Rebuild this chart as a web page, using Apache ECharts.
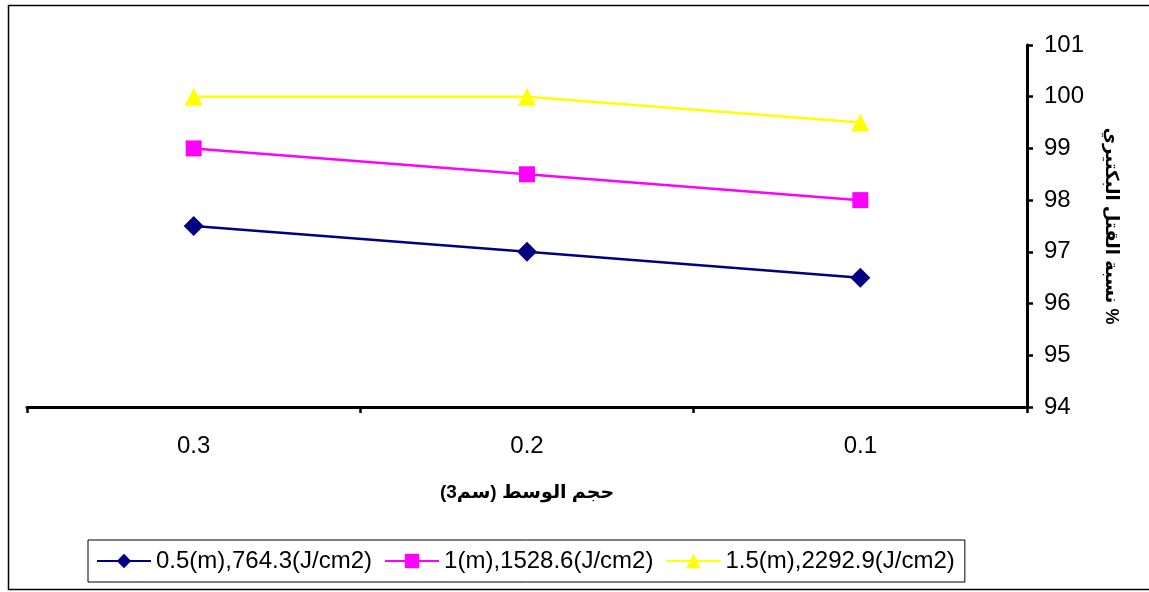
<!DOCTYPE html>
<html>
<head>
<meta charset="utf-8">
<script src="https://cdn.jsdelivr.net/npm/echarts@6/dist/echarts.min.js"></script>
<style>
  html, body { margin: 0; padding: 0; background: #fff; }
  #chart { width: 1149px; height: 592px; }
</style>
</head>
<body>
<div id="chart"></div>
<script>
// حجم الوسط (x axis categories, reversed as in the original)
const categories = ['0.3', '0.2', '0.1'];
// bacterial kill percentage for each dose
const dose05 = [97.5, 97, 96.5];
const dose10 = [99, 98.5, 98];
const dose15 = [100, 100, 99.5];
const seriesNames = ['0.5(m),764.3(J/cm2)', '1(m),1528.6(J/cm2)', '1.5(m),2292.9(J/cm2)'];

const font = 'Arial, "Liberation Sans", "DejaVu Sans", sans-serif';
const chart = echarts.init(document.getElementById('chart'));

function line(name, data, color, symbol, size) {
    return {
        name: name,
        type: 'line',
        data: data,
        symbol: symbol,
        symbolSize: size,
        lineStyle: { color: color, width: 2.5 },
        itemStyle: { color: color },
        emphasis: { disabled: true },
        animation: false
    };
}

chart.setOption({
    backgroundColor: '#fff',
    textStyle: { fontFamily: font },
    grid: { left: 27, right: 122, top: 45, bottom: 185 },
    graphic: [{
        type: 'rect',
        shape: { x: 8.5, y: 5.5, width: 1160, height: 584 },
        style: { fill: null, stroke: '#000', lineWidth: 1.5 },
        z: -1
    }],
    legend: {
        left: 88,
        top: 540,
        orient: 'horizontal',
        borderColor: '#000',
        borderWidth: 1,
        padding: [9, 10, 9, 8],
        itemWidth: 54,
        itemHeight: 18,
        itemGap: 12,
        textStyle: { fontSize: 24, color: '#000', fontFamily: font },
        data: seriesNames
    },
    xAxis: {
        type: 'category',
        data: categories,
        boundaryGap: true,
        name: 'حجم الوسط (سم3)',
        nameLocation: 'middle',
        nameGap: 76,
        nameTextStyle: { fontSize: 19, fontWeight: 'bold', color: '#000', fontFamily: font },
        axisLine: { lineStyle: { color: '#000', width: 3 } },
        axisTick: { show: true, inside: false, length: 6, lineStyle: { color: '#000', width: 2.5 } },
        axisLabel: { fontSize: 24, color: '#000', margin: 27 },
        splitLine: { show: false }
    },
    yAxis: {
        type: 'value',
        position: 'right',
        min: 94,
        max: 101,
        interval: 1,
        name: 'نسبة القتل البكتيري %',
        nameLocation: 'middle',
        nameRotate: -90,
        nameGap: 75,
        nameTextStyle: { fontSize: 18, fontWeight: 'bold', color: '#000', fontFamily: font },
        axisLine: { show: true, lineStyle: { color: '#000', width: 3 } },
        axisTick: { show: true, inside: false, length: 6, lineStyle: { color: '#000', width: 2.5 } },
        axisLabel: { fontSize: 24, color: '#000', margin: 17 },
        splitLine: { show: false }
    },
    series: [
        line(seriesNames[0], dose05, '#000080', 'diamond', 20),
        line(seriesNames[1], dose10, '#FF00FF', 'rect', 16),
        line(seriesNames[2], dose15, '#FFFF00', 'triangle', 18)
    ]
});
</script>
</body>
</html>
